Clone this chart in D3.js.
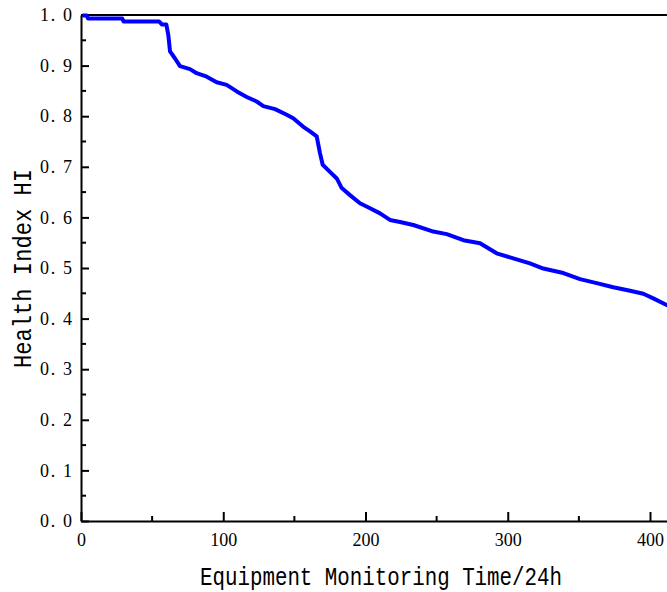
<!DOCTYPE html>
<html>
<head>
<meta charset="utf-8">
<script src="https://cdn.jsdelivr.net/npm/d3@7"></script>
<style>
  body { margin: 0; background: #fff; }
  svg { display: block; }
</style>
</head>
<body>
<div id="chart"></div>
<script>
// monitoring time (x 24h) and health index
const time = [1, 4, 5, 29, 30, 55, 57, 60, 61.4, 62.6, 66.1, 69.6, 76.6, 81.3, 88.4, 95.4,
  102.4, 109.5, 116.5, 123.5, 128.2, 136.4, 144.6, 149.2, 156.3, 161, 165.7, 168, 169.9,
  175, 179.8, 183.3, 189.1, 196.1, 203.2, 210.2, 217.2, 224.3, 233.6, 247.7, 257.1, 268.8,
  280.5, 292.2, 303.9, 315.6, 325, 339.1, 350.8, 362.5, 374.2, 386, 395.3, 402.3, 411.7, 418]
const hi = [0.999, 0.999, 0.993, 0.993, 0.987, 0.987, 0.981, 0.981, 0.96, 0.928, 0.914, 0.899,
  0.893, 0.885, 0.878, 0.867, 0.862, 0.849, 0.838, 0.829, 0.820, 0.814, 0.803, 0.796, 0.779,
  0.770, 0.760, 0.727, 0.704, 0.690, 0.677, 0.658, 0.644, 0.628, 0.618, 0.608, 0.595, 0.591,
  0.585, 0.572, 0.567, 0.555, 0.549, 0.529, 0.519, 0.509, 0.499, 0.490, 0.478, 0.470, 0.462,
  0.455, 0.449, 0.440, 0.427, 0.418]

const xMajor = [0, 100, 200, 300, 400]
const xMinor = [50, 150, 250, 350, 450]
const yMajor = [0, 0.1, 0.2, 0.3, 0.4, 0.5, 0.6, 0.7, 0.8, 0.9, 1.0]
const yMinor = [0.05, 0.15, 0.25, 0.35, 0.45, 0.55, 0.65, 0.75, 0.85, 0.95]

const xTitle = 'Equipment Monitoring Time/24h'
const yTitle = 'Health Index HI'

const WIDTH = 667
const HEIGHT = 592
const MARGINS = { top: 15, left: 81, bottom: 71 }

const xScale = d3.scaleLinear().domain([0, 450]).range([MARGINS.left, MARGINS.left + 450 * 1.4225])
const yScale = d3.scaleLinear().domain([0, 1]).range([HEIGHT - MARGINS.bottom, MARGINS.top])

const svg = d3.select('#chart').append('svg')
  .attr('width', WIDTH)
  .attr('height', HEIGHT)

const tickFont = 'Liberation Serif, DejaVu Serif, serif'
const titleFont = 'Liberation Mono, DejaVu Sans Mono, monospace'

// x axis, ticks pointing into the plot
const xAxis = d3.axisBottom(xScale).tickValues(xMajor).tickSize(-9).tickSizeOuter(0).tickFormat(d3.format('d'))
const gx = svg.append('g')
  .attr('transform', 'translate(0,' + yScale(0) + ')')
  .call(xAxis)
gx.selectAll('.tick line').attr('stroke-width', 2)
gx.selectAll('.tick text').attr('y', 12).attr('dy', '0.71em')
  .style('font-family', tickFont).style('font-size', '18px').attr('fill', '#000')
gx.append('g').selectAll('line').data(xMinor).join('line')
  .attr('x1', d => xScale(d)).attr('x2', d => xScale(d))
  .attr('y1', 0).attr('y2', -5)
  .attr('stroke', '#000').attr('stroke-width', 2)

// y axis
const yAxis = d3.axisLeft(yScale).tickValues(yMajor).tickSize(-8).tickSizeOuter(0)
  .tickFormat(d => d3.format('.1f')(d).replace('.', '. '))
const gy = svg.append('g')
  .attr('transform', 'translate(' + MARGINS.left + ',0)')
  .call(yAxis)
gy.selectAll('.tick line').attr('stroke-width', 2)
gy.selectAll('.tick text').attr('x', -9)
  .style('font-family', tickFont).style('font-size', '18px').style('white-space', 'pre')
  .attr('textLength', 32).attr('lengthAdjust', 'spacing').attr('fill', '#000')
gy.append('g').selectAll('line').data(yMinor).join('line')
  .attr('x1', 0).attr('x2', 5)
  .attr('y1', d => yScale(d)).attr('y2', d => yScale(d))
  .attr('stroke', '#000').attr('stroke-width', 2)

svg.selectAll('.domain').attr('stroke', '#000').attr('stroke-width', 2)

// top frame line
svg.append('line')
  .attr('x1', MARGINS.left).attr('x2', xScale(450))
  .attr('y1', yScale(1)).attr('y2', yScale(1))
  .attr('stroke', '#000').attr('stroke-width', 2)

// health index curve
const data = time.map((t, i) => ({ time: t, hi: hi[i] }))
const lineGen = d3.line()
  .x(d => xScale(d.time))
  .y(d => yScale(d.hi))

svg.append('path')
  .attr('d', lineGen(data))
  .attr('fill', 'none')
  .attr('stroke', '#0000ff')
  .attr('stroke-width', 4)
  .attr('stroke-linejoin', 'round')

// axis titles
svg.append('text')
  .attr('x', 200).attr('y', 585)
  .attr('textLength', 362).attr('lengthAdjust', 'spacingAndGlyphs')
  .style('font-family', titleFont).style('font-size', '25px')
  .text(xTitle)

svg.append('text')
  .attr('transform', 'translate(31,368) rotate(-90)')
  .attr('textLength', 199).attr('lengthAdjust', 'spacingAndGlyphs')
  .style('font-family', titleFont).style('font-size', '25px')
  .text(yTitle)
</script>
</body>
</html>
